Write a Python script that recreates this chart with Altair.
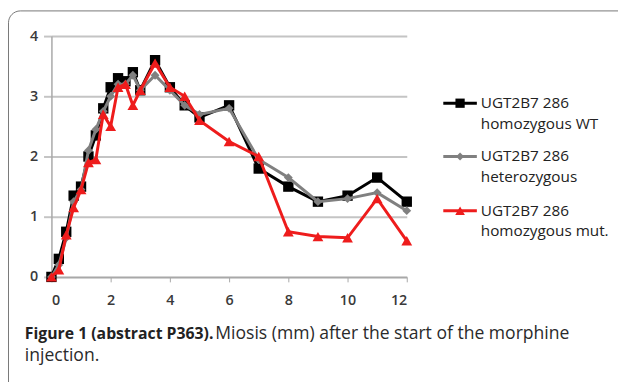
import altair as alt
import pandas as pd

times = [0, 0.25, 0.5, 0.75, 1, 1.25, 1.5, 1.75, 2, 2.25, 2.5, 2.75, 3, 3.5, 4, 4.5, 5, 6, 7, 8, 9, 10, 11, 12]
wt = [0, 0.3, 0.75, 1.35, 1.5, 2.0, 2.35, 2.8, 3.15, 3.3, 3.25, 3.4, 3.1, 3.6, 3.15, 2.85, 2.65, 2.85, 1.8, 1.5, 1.25, 1.35, 1.65, 1.25]
het = [0, 0.2, 0.65, 1.25, 1.45, 2.1, 2.45, 2.75, 3.0, 3.2, 3.2, 3.35, 3.1, 3.35, 3.1, 2.85, 2.7, 2.8, 1.95, 1.65, 1.25, 1.3, 1.4, 1.1]
mut = [0, 0.12, 0.7, 1.15, 1.45, 1.9, 1.95, 2.7, 2.5, 3.15, 3.2, 2.85, 3.1, 3.55, 3.15, 3.0, 2.6, 2.25, 2.0, 0.75, 0.67, 0.65, 1.3, 0.6]

series = ["UGT2B7 286 homozygous WT", "UGT2B7 286 heterozygous", "UGT2B7 286 homozygous mut."]
legend_lines = [["UGT2B7 286", "homozygous WT"], ["UGT2B7 286", "heterozygous"], ["UGT2B7 286", "homozygous mut."]]
colors = ["#000000", "#808080", "#ee1c1c"]
shapes = ["square", "diamond", "triangle-up"]
sizes = [110, 80, 120]
x_ticks = [0, 2, 4, 6, 8, 10, 12]
y_ticks = [0, 1, 2, 3, 4]
caption_bold = "Figure 1 (abstract P363)."
caption_rest = "Miosis (mm) after the start of the morphine"
caption_line2 = "injection."

FONT = "Open Sans"
W, H = 360, 244

rows = []
for s, vals in zip(series, [wt, het, mut]):
    for t, v in zip(times, vals):
        rows.append({"series": s, "time": t, "miosis": v})
df = pd.DataFrame(rows)

xs = alt.Scale(domain=[0, 12], nice=False)
ys = alt.Scale(domain=[0, 4], nice=False)

layers = []
for i, s in enumerate(series):
    d = df[df.series == s]
    base = alt.Chart(d).encode(
        x=alt.X("time:Q", scale=xs, axis=alt.Axis(
            values=x_ticks, title=None, grid=False, domainColor="#a8a8a8", domainWidth=1.5,
            tickColor="#a8a8a8", tickSize=5, labelFont=FONT, labelFontSize=14.5, labelFontWeight=600,
            labelColor="#3a3a3a", labelPadding=12)),
        y=alt.Y("miosis:Q", scale=ys, axis=alt.Axis(
            values=y_ticks, title=None, grid=True, gridColor="#c4c4c4", gridWidth=2,
            domainColor="#a8a8a8", domainWidth=1.5, tickColor="#c4c4c4", tickWidth=2, tickSize=8,
            labelFont=FONT, labelFontSize=14.5, labelFontWeight=600, labelColor="#3a3a3a", labelPadding=6)),
    )
    layers.append(base.mark_line(color=colors[i], strokeWidth=3))
    layers.append(base.mark_point(color=colors[i], shape=shapes[i], size=sizes[i], filled=True, opacity=1))

# legend
leg_y = [68, 122, 177]
for i in range(3):
    y0 = leg_y[i]
    layers.append(alt.Chart(pd.DataFrame({"a": [0]})).mark_rule(color=colors[i], strokeWidth=3).encode(
        x=alt.value(397), x2=alt.value(431), y=alt.value(y0)))
    layers.append(alt.Chart(pd.DataFrame({"a": [0]})).mark_point(
        color=colors[i], shape=shapes[i], size=sizes[i] * 0.8, filled=True, opacity=1).encode(
        x=alt.value(414), y=alt.value(y0)))
    layers.append(alt.Chart(pd.DataFrame({"a": [0]})).mark_text(
        text=legend_lines[i], align="left", baseline="middle", font=FONT, fontSize=15.5,
        color="#222222", lineHeight=21).encode(x=alt.value(435), y=alt.value(y0)))

# caption
layers.append(alt.Chart(pd.DataFrame({"a": [0]})).mark_text(
    text=caption_bold, align="left", baseline="alphabetic", font=FONT, fontSize=16,
    fontWeight="bold", color="#222222").encode(x=alt.value(-27), y=alt.value(307)))
layers.append(alt.Chart(pd.DataFrame({"a": [0]})).mark_text(
    text=caption_rest, align="left", baseline="alphabetic", font=FONT, fontSize=17.8,
    color="#2a2a2a").encode(x=alt.value(166), y=alt.value(307)))
layers.append(alt.Chart(pd.DataFrame({"a": [0]})).mark_text(
    text=caption_line2, align="left", baseline="alphabetic", font=FONT, fontSize=17.8,
    color="#2a2a2a").encode(x=alt.value(-27), y=alt.value(329)))

# border
layers.append(alt.Chart(pd.DataFrame({"a": [0]})).mark_rect(
    fill=None, stroke="#777777", strokeWidth=1, cornerRadius=12).encode(
    x=alt.value(-43.5), x2=alt.value(600), y=alt.value(-25.5), y2=alt.value(400)))

chart = alt.layer(*layers).properties(
    width=W, height=H,
    padding={"left": 44, "top": 26, "right": 214, "bottom": 104},
    autosize=alt.AutoSizeParams(type="none"),
    background="white",
).configure_view(stroke=None)

chart.save("out.html", embed_options={"renderer": "svg", "actions": False})
